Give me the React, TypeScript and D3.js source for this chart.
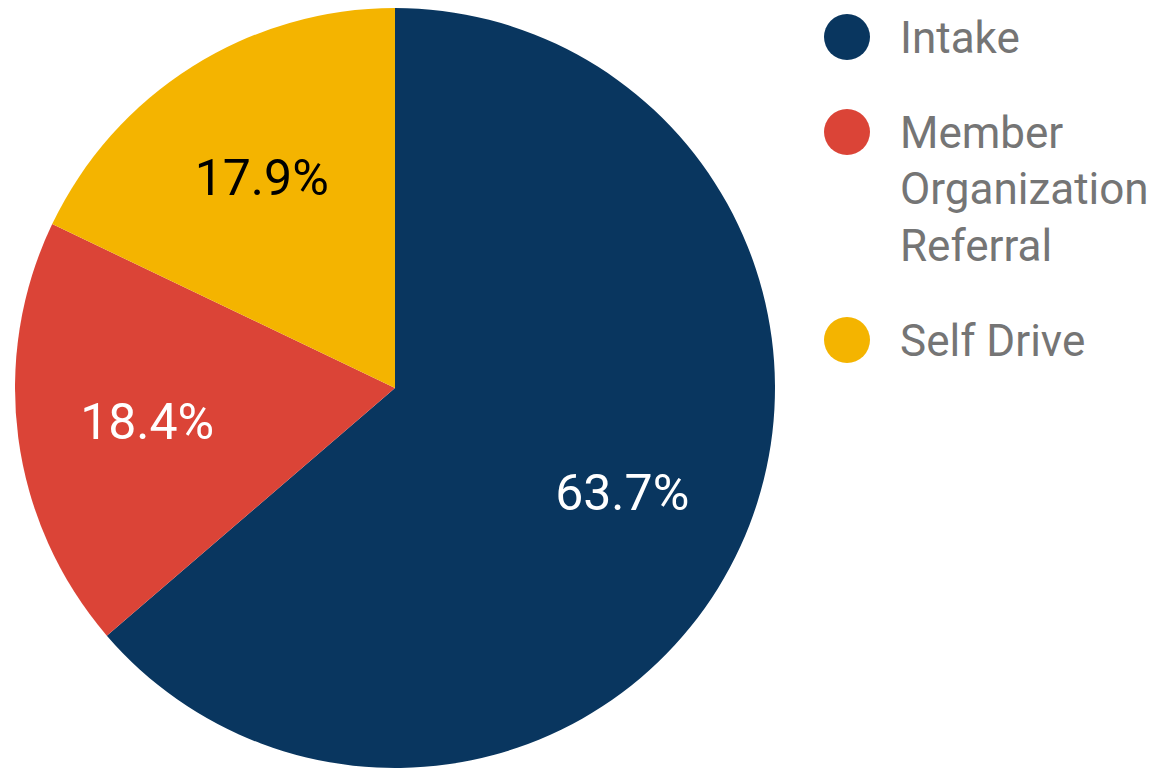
import React from "react";
import * as d3 from "d3";

const categories = ["Intake", "Member Organization Referral", "Self Drive"];
const legendLines = [["Intake"], ["Member", "Organization", "Referral"], ["Self Drive"]];
const values = [63.7, 18.4, 17.9];
const colors = ["#09365f", "#db4437", "#f4b400"];
const labelColors = ["#ffffff", "#ffffff", "#000000"];

export default function App() {
  const W = 1164, H = 768;
  const cx = 395, cy = 388, R = 380;
  const pie = d3.pie<number>().sort(null).value((d) => d)(values);
  const arc = d3.arc<d3.PieArcDatum<number>>().innerRadius(0).outerRadius(R);
  const labelArc = d3.arc<d3.PieArcDatum<number>>().innerRadius(250).outerRadius(250);
  const font = "Roboto, Arial, sans-serif";
  const lineH = 56.5;
  let y = 37;
  const legendY: number[] = [];
  legendLines.forEach((ls) => {
    legendY.push(y);
    y += (ls.length - 1) * lineH + 95;
  });
  return (
    <svg width={W} height={H} style={{ position: "absolute", left: 0, top: 0 }}>
      <rect width={W} height={H} fill="#fff" />
      <g transform={`translate(${cx},${cy})`}>
        {pie.map((p, i) => (
          <path key={i} d={arc(p) || ""} fill={colors[i]} />
        ))}
        {pie.map((p, i) => {
          const [x, yy] = labelArc.centroid(p);
          return (
            <text key={i} x={x} y={yy} dy="0.36em" textAnchor="middle" fontFamily={font}
              fontSize={50} fill={labelColors[i]}>
              {`${values[i].toFixed(1)}%`}
            </text>
          );
        })}
      </g>
      {legendLines.map((ls, i) => (
        <g key={i}>
          <circle cx={847} cy={legendY[i]} r={23} fill={colors[i]} />
          {ls.map((l, j) => (
            <text key={j} x={900} y={legendY[i] + j * lineH} dy="0.36em" fontFamily={font}
              fontSize={44} fill="#757575">{l}</text>
          ))}
        </g>
      ))}
    </svg>
  );
}
